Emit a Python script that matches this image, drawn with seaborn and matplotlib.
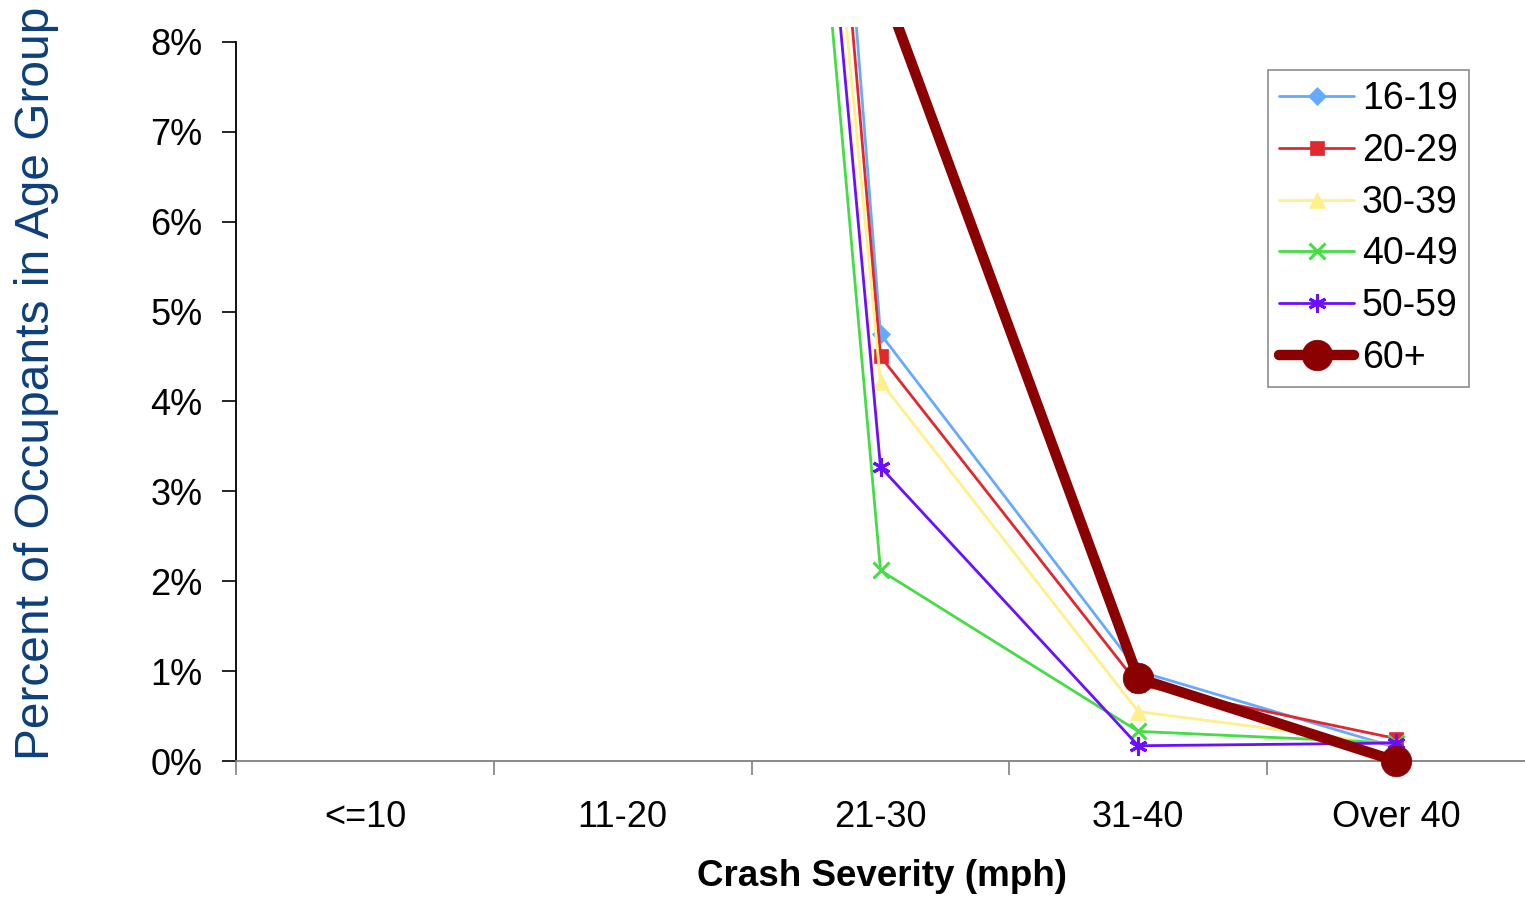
import matplotlib
matplotlib.use("Agg")
import matplotlib.pyplot as plt
from matplotlib.ticker import FixedLocator, FuncFormatter
import seaborn as sns
import pandas as pd

# Crash severity bins (mph)
categories = ["<=10", "11-20", "21-30", "31-40", "Over 40"]

# Percent of occupants in each age group, by crash severity
age_16_19 = [52.8, 41.3, 4.75, 1.00, 0.15]
age_20_29 = [56.3, 38.1, 4.50, 0.85, 0.25]
age_30_39 = [61.0, 34.1, 4.22, 0.55, 0.18]
age_40_49 = [62.9, 34.5, 2.12, 0.33, 0.20]
age_50_59 = [61.6, 34.8, 3.27, 0.17, 0.20]
age_60_up = [50.4, 40.0, 8.70, 0.92, 0.00]

series_names = ["16-19", "20-29", "30-39", "40-49", "50-59", "60+"]
series_values = [age_16_19, age_20_29, age_30_39, age_40_49, age_50_59, age_60_up]

styles = {
    "16-19": dict(color="#66aaff", marker="D", lw=2.0, ms=9),
    "20-29": dict(color="#e0282e", marker="s", lw=2.0, ms=10),
    "30-39": dict(color="#fff08a", marker="^", lw=2.0, ms=11),
    "40-49": dict(color="#44dd44", marker="x", lw=2.0, ms=11),
    "50-59": dict(color="#6a10ff", marker=(6, 2, 0), lw=2.0, ms=13),
    "60+":   dict(color="#8b0000", marker="o", lw=7.5, ms=22),
}

sns.set_style("white")
plt.rcParams["font.family"] = ["Liberation Sans", "DejaVu Sans"]
plt.rcParams["text.color"] = "#000000"
plt.rcParams["xtick.color"] = "#000000"
plt.rcParams["ytick.color"] = "#000000"

fig = plt.figure(figsize=(15.25, 8.99), dpi=100)
ax = fig.add_axes([236 / 1525, 1 - 797 / 899, 1 - 236 / 1525, (797 - 27.4) / 899])

frames = []
for name, vals in zip(series_names, series_values):
    frames.append(pd.DataFrame({"severity": categories, "pct": vals, "group": name}))
df = pd.concat(frames, ignore_index=True)
df["x"] = df["severity"].map({c: i for i, c in enumerate(categories)})

for name in series_names:
    st = styles[name]
    sub = df[df["group"] == name]
    mew = 2.2 if st["marker"] in ("x", (6, 2, 0)) else 0.5
    sns.lineplot(data=sub, x="x", y="pct", ax=ax, color=st["color"],
                 linewidth=st["lw"], marker=st["marker"], markersize=st["ms"],
                 markeredgecolor=st["color"], markeredgewidth=mew,
                 label=name, zorder=3 if name != "60+" else 4)

ax.set_xlim(-0.5, len(categories) - 0.5)
ax.set_ylim(-0.4, 8.16)

# axes lines
for side in ("top", "right"):
    ax.spines[side].set_visible(False)
ax.spines["bottom"].set_position(("data", 0))
ax.spines["bottom"].set_color("#808080")
ax.spines["bottom"].set_linewidth(1.3)
ax.spines["left"].set_color("#000000")
ax.spines["left"].set_linewidth(1.3)
ax.spines["left"].set_bounds(0, 8)

ax.yaxis.set_major_locator(FixedLocator(range(0, 9)))
ax.yaxis.set_major_formatter(FuncFormatter(lambda v, p: f"{v:.0f}%"))
ax.tick_params(axis="y", direction="out", length=10, width=1.2, color="#000000",
               labelsize=26, labelcolor="#000000", pad=14, left=True)

ax.set_xticks(range(len(categories)))
ax.set_xticklabels(categories)
ax.set_xticks([i + 0.5 for i in range(-1, len(categories) - 1)], minor=True)
ax.tick_params(axis="x", which="major", length=0, labelsize=26, labelcolor="#000000", pad=28)
ax.tick_params(axis="x", which="minor", direction="out", length=10, width=1.2,
               color="#808080", bottom=True)

ax.set_xlabel("")
ax.set_ylabel("")
ax.grid(False)

fig.text(882 / 1525, 1 - 877 / 899, "Crash Severity (mph)", ha="center", va="center",
         fontsize=26.5, fontweight="bold", color="#000000")
fig.text(37 / 1525, 1 - 383 / 899, "Percent of Occupants in Age Group", ha="center",
         va="center", rotation=90, fontsize=34.5, color="#0d3f7c")

leg = ax.legend(loc="upper left", bbox_to_anchor=((1268 - 236) / 1289, 1 - (70 - 27.4) / 769.6),
                fontsize=27, frameon=True, fancybox=False, borderpad=0.3,
                labelspacing=0.42, handlelength=2.0, handletextpad=0.2, borderaxespad=0)
leg.get_frame().set_edgecolor("#707070")
leg.get_frame().set_linewidth(1.2)
for t in leg.get_texts():
    t.set_color("#000000")

fig.savefig("out.png", dpi=100)
